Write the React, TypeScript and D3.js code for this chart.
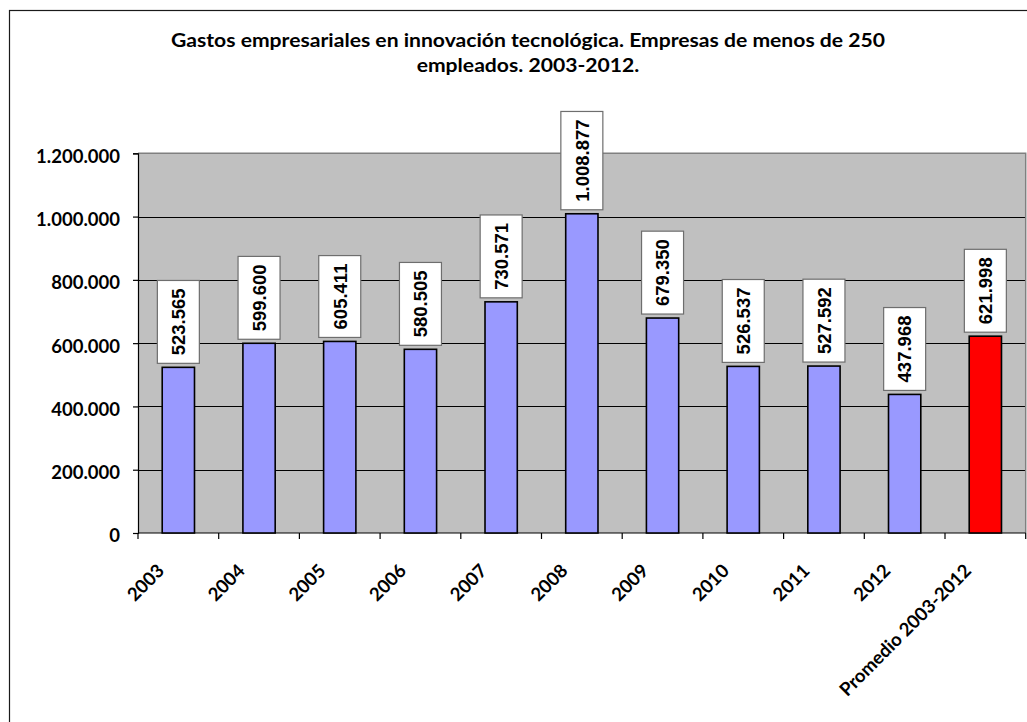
import React, { useEffect, useRef } from "react";
import * as d3 from "d3";

const categories = ["2003", "2004", "2005", "2006", "2007", "2008", "2009", "2010", "2011", "2012", "Promedio 2003-2012"];
const values = [523565, 599600, 605411, 580505, 730571, 1008877, 679350, 526537, 527592, 437968, 621998];
const yTicks = [0, 200000, 400000, 600000, 800000, 1000000, 1200000];
const titleLines = ["Gastos empresariales en innovación tecnológica. Empresas de menos de 250", "empleados. 2003-2012."];

const W = 1027;
const H = 722;

export default function App() {
  const ref = useRef<SVGSVGElement | null>(null);

  useEffect(() => {
    const svg = d3.select(ref.current);
    svg.selectAll("*").remove();

    const locale = d3.formatLocale({ decimal: ",", thousands: ".", grouping: [3], currency: ["", "€"] });
    const fmt = locale.format(",d");

    const left = 138, right = 1025.7, top = 153.3, bottom = 533;
    const x = d3.scaleBand<string>().domain(categories).range([left, right]).paddingInner(0.6).paddingOuter(0.3);
    const y = d3.scaleLinear().domain([0, 1200000]).range([bottom, top]);
    const step = x.step();

    const calibri = "Lato, 'Open Sans', sans-serif";

    // outer frame (extends beyond view on right/bottom)
    svg.append("rect").attr("x", 9.5).attr("y", 10.5).attr("width", 1100).attr("height", 800)
      .attr("fill", "#fff").attr("stroke", "#1a1a1a").attr("stroke-width", 1.2);

    // title
    const tg = svg.append("g").attr("font-family", calibri).attr("font-weight", 700).attr("font-size", 19).attr("fill", "#000");
    const t1 = tg.append("text").attr("x", 528).attr("y", 47).attr("text-anchor", "middle").text(titleLines[0]);
    const t2 = tg.append("text").attr("x", 528).attr("y", 72).attr("text-anchor", "middle").text(titleLines[1]);
    const n1 = (t1.node() as SVGTextElement).getComputedTextLength();
    const ratio = 714 / n1;
    const n2 = (t2.node() as SVGTextElement).getComputedTextLength();
    t1.attr("textLength", 714).attr("lengthAdjust", "spacingAndGlyphs");
    t2.attr("textLength", n2 * ratio).attr("lengthAdjust", "spacingAndGlyphs");

    // plot background
    svg.append("rect").attr("x", left).attr("y", top).attr("width", right - left).attr("height", bottom - top).attr("fill", "#C0C0C0");

    // gridlines
    svg.append("g").selectAll("line").data(yTicks.filter((d) => d > 0 && d < 1200000)).join("line")
      .attr("x1", left).attr("x2", right).attr("y1", (d) => Math.round(y(d)) + 0.5).attr("y2", (d) => Math.round(y(d)) + 0.5)
      .attr("stroke", "#000").attr("stroke-width", 1);

    // plot border top/right gray
    svg.append("path").attr("d", `M${left},${top}H${right}V${bottom}`).attr("fill", "none").attr("stroke", "#808080").attr("stroke-width", 1.5);

    // y axis
    const yAxis = d3.axisLeft(y).tickValues(yTicks).tickSize(5).tickPadding(13).tickFormat((d) => fmt(d as number));
    const yg = svg.append("g").attr("transform", `translate(${left},0)`).call(yAxis);
    yg.select(".domain").attr("stroke", "#000").attr("stroke-width", 1.2);
    yg.selectAll(".tick line").attr("stroke", "#000").attr("stroke-width", 1.2);
    yg.selectAll(".tick text").attr("font-family", calibri).attr("font-weight", 700).attr("font-size", 18.5)
      .attr("fill", "#000").attr("dy", "0.32em").attr("y", 3);

    // x axis
    const boundaries = d3.range(categories.length + 1).map((i) => left + i * step);
    svg.append("line").attr("x1", left).attr("x2", right).attr("y1", bottom).attr("y2", bottom).attr("stroke", "#000").attr("stroke-width", 1.2);
    svg.append("g").selectAll("line").data(boundaries).join("line")
      .attr("x1", (d) => d).attr("x2", (d) => d).attr("y1", bottom).attr("y2", bottom + 6).attr("stroke", "#000").attr("stroke-width", 1.2);

    svg.append("g").selectAll("text").data(categories).join("text")
      .attr("transform", (d) => `translate(${(x(d) as number) + x.bandwidth() / 2 - 13},${bottom + 39}) rotate(-45)`)
      .attr("text-anchor", "end").attr("font-family", calibri).attr("font-weight", 700).attr("font-size", 18.5).attr("fill", "#000")
      .text((d) => d);

    // bars
    svg.append("g").selectAll("rect").data(categories).join("rect")
      .attr("x", (d) => x(d) as number).attr("width", x.bandwidth())
      .attr("y", (d, i) => y(values[i])).attr("height", (d, i) => bottom - y(values[i]))
      .attr("fill", (d, i) => (i === categories.length - 1 ? "#FF0000" : "#9999FF"))
      .attr("stroke", "#000").attr("stroke-width", 1.6);

    // data labels
    const lg = svg.append("g");
    categories.forEach((c, i) => {
      const cx = (x(c) as number) + x.bandwidth() / 2;
      const g = lg.append("g");
      const rect = g.append("rect");
      const txt = g.append("text").attr("font-family", "'Liberation Sans', Arial, sans-serif").attr("font-weight", 700)
        .attr("font-size", 18.5).attr("fill", "#000").attr("text-anchor", "middle").text(fmt(values[i]));
      const len = (txt.node() as SVGTextElement).getComputedTextLength();
      const bh = len + 16;
      const bw = 42;
      const yb = y(values[i]) - 4;
      const cy = yb - bh / 2;
      rect.attr("x", cx - bw / 2).attr("y", yb - bh).attr("width", bw).attr("height", bh)
        .attr("fill", "#fff").attr("stroke", "#6e6e6e").attr("stroke-width", 1.2);
      txt.attr("transform", `translate(${cx + 6.8},${cy}) rotate(-90)`);
    });
  }, []);

  return (
    <svg ref={ref} width={W} height={H} style={{ position: "absolute", left: 0, top: 0, display: "block", background: "#fff" }} />
  );
}
